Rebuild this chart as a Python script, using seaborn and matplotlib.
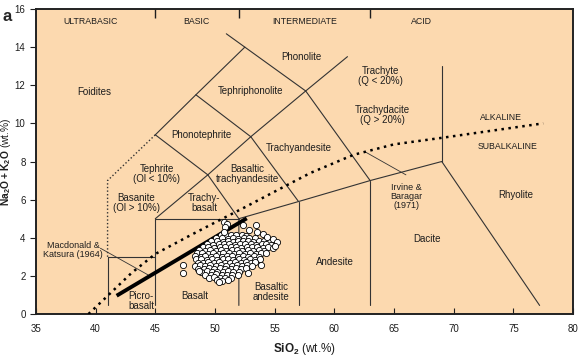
import matplotlib
matplotlib.use('Agg')
import matplotlib.pyplot as plt
import seaborn as sns

# TAS field boundaries, (SiO2, Na2O+K2O) vertices
solid_bounds = [
    [(41, 0.45), (41, 3), (45, 3)],
    [(45, 0.45), (45, 5), (52, 5)],
    [(52, 0.45), (52, 5), (57, 5.9), (63, 7), (69, 8), (77.2, 0.45)],
    [(57, 0.45), (57, 5.9)],
    [(63, 0.45), (63, 7)],
    [(69, 8), (69, 13)],
    [(45, 5), (49.4, 7.3), (52, 5)],
    [(49.4, 7.3), (53, 9.3), (57, 5.9)],
    [(53, 9.3), (57.6, 11.7), (63, 7)],
    [(45, 9.4), (49.4, 7.3)],
    [(45, 9.4), (48.4, 11.5), (52.5, 14)],
    [(48.4, 11.5), (53, 9.3)],
    [(50.95, 14.7), (57.6, 11.7)],
    [(57.6, 11.7), (61.1, 13.5)],
]
dotted_bound = [(41, 3), (41, 7), (45, 9.4)]

# Irvine & Baragar (1971) alkaline / subalkaline divide
ib_sio2 = [39.4, 41.0, 43.0, 45.0, 48.0, 50.0, 52.5, 56.0, 58.0, 61.6, 65.0, 69.1, 73.0, 77.5]
ib_alk = [0.0, 0.95, 2.15, 3.15, 4.15, 4.8, 5.6, 6.75, 7.4, 8.35, 8.9, 9.25, 9.6, 10.0]

# Macdonald & Katsura (1964)
mk_sio2 = [41.76, 52.66]
mk_alk = [0.96, 5.02]

# samples
sample_sio2 = [
    50.5, 50.95, 51.35, 51.8, 52.25, 52.6,
    50.1, 50.6, 51.05, 51.5, 51.95, 52.4, 52.85, 53.35,
    49.7, 50.2, 50.65, 51.1, 51.5, 51.95, 52.35, 52.8, 53.2, 53.7, 54.1, 54.5,
    49.3, 49.8, 50.3, 50.75, 51.2, 51.7, 52.1, 52.55, 53.0, 53.45, 53.9, 54.3, 54.7,
    49.0, 49.45, 49.9, 50.4, 50.85, 51.3, 51.75, 52.2, 52.65, 53.1, 53.55, 54.0, 54.4, 54.85,
    48.7, 49.15, 49.6, 50.05, 50.5, 50.95, 51.4, 51.85, 52.3, 52.75, 53.2, 53.65, 54.1,
    48.5, 48.95, 49.4, 49.8, 50.3, 50.7, 51.15, 51.6, 52.05, 52.5, 52.95, 53.4, 53.85, 54.25,
    48.35, 48.8, 49.2, 49.65, 50.1, 50.55, 51.0, 51.45, 51.9, 52.35, 52.8, 53.25, 53.7,
    48.4, 48.85, 49.3, 49.75, 50.2, 50.65, 51.1, 51.55, 52.0, 52.45, 52.9, 53.35, 53.8,
    48.55, 49.0, 49.45, 49.9, 50.35, 50.8, 51.25, 51.7, 52.15, 52.6, 53.0, 53.35,
    48.3, 48.75, 49.2, 49.6, 50.05, 50.5, 50.95, 51.4, 51.85, 52.3, 52.7, 53.1,
    48.6, 49.05, 49.5, 49.95, 50.4, 50.85, 51.3, 51.75, 52.2, 52.6,
    48.8, 49.3, 49.75, 50.2, 50.65, 51.1, 51.55, 52.0,
    49.2, 49.65, 50.1, 50.55, 51.0, 51.45, 51.9,
    49.5, 49.95, 50.4, 50.85, 51.3,
    50.15, 50.6, 51.05,
    50.76, 50.98, 50.87, 50.76, 52.38, 52.85, 53.4, 53.55, 54.0, 54.35,
    54.9, 55.2, 55.03, 53.85, 52.8, 50.36, 47.35, 47.3, 48.7,
]
sample_alk = [
    4.14, 4.17, 4.12, 4.16, 4.13, 4.10,
    3.97, 4.00, 3.96, 3.99, 3.95, 4.01, 3.97, 3.98,
    3.82, 3.84, 3.80, 3.83, 3.79, 3.85, 3.81, 3.83, 3.80, 3.84, 3.81, 3.78,
    3.66, 3.64, 3.68, 3.65, 3.67, 3.63, 3.68, 3.65, 3.66, 3.64, 3.67, 3.65, 3.62,
    3.50, 3.52, 3.48, 3.51, 3.49, 3.53, 3.50, 3.47, 3.52, 3.49, 3.51, 3.48, 3.50, 3.46,
    3.34, 3.32, 3.36, 3.33, 3.35, 3.31, 3.36, 3.34, 3.32, 3.35, 3.33, 3.36, 3.32,
    3.18, 3.20, 3.16, 3.19, 3.17, 3.21, 3.18, 3.15, 3.19, 3.17, 3.20, 3.16, 3.18, 3.21,
    3.02, 3.00, 3.04, 3.01, 3.03, 2.99, 3.02, 3.05, 3.00, 3.03, 3.01, 3.04, 3.00,
    2.86, 2.88, 2.84, 2.87, 2.85, 2.89, 2.86, 2.83, 2.87, 2.85, 2.88, 2.84, 2.86,
    2.70, 2.68, 2.72, 2.69, 2.71, 2.67, 2.70, 2.73, 2.68, 2.71, 2.69, 2.72,
    2.54, 2.56, 2.52, 2.55, 2.53, 2.57, 2.54, 2.51, 2.55, 2.53, 2.56, 2.52,
    2.38, 2.36, 2.40, 2.37, 2.39, 2.35, 2.38, 2.41, 2.36, 2.39,
    2.22, 2.24, 2.20, 2.23, 2.21, 2.25, 2.22, 2.19,
    2.06, 2.04, 2.08, 2.05, 2.07, 2.03, 2.06,
    1.90, 1.92, 1.88, 1.91, 1.89,
    1.76, 1.74, 1.78,
    4.84, 4.70, 4.55, 4.32, 4.67, 4.41, 4.67, 4.28, 4.20, 4.05,
    3.95, 3.78, 3.58, 2.57, 2.13, 1.69, 2.57, 2.17, 2.28,
]

# field names and label positions
field_names = ['Foidites', 'Phonolite', 'Tephriphonolite', 'Phonotephrite', 'Trachyandesite',
               'Trachyte\n(Q < 20%)', 'Trachydacite\n(Q > 20%)', 'Tephrite\n(Ol < 10%)',
               'Basaltic\ntrachyandesite', 'Basanite\n(Ol > 10%)', 'Trachy-\nbasalt',
               'Picro-\nbasalt', 'Basalt', 'Basaltic\nandesite', 'Andesite', 'Dacite', 'Rhyolite']
field_x = [39.9, 57.2, 53.0, 48.9, 57.0, 63.9, 64.0, 45.1, 52.7, 43.4, 49.1,
           43.8, 48.3, 54.7, 60.05, 67.75, 75.2]
field_y = [11.63, 13.48, 11.72, 9.39, 8.73, 12.47, 10.45, 7.32, 7.32, 5.8, 5.8,
           0.66, 0.94, 1.18, 2.71, 3.92, 6.26]

group_names = ['ULTRABASIC', 'BASIC', 'INTERMEDIATE', 'ACID', 'ALKALINE', 'SUBALKALINE']
group_x = [39.6, 48.4, 57.5, 67.3, 73.95, 74.5]
group_y = [15.34, 15.34, 15.34, 15.34, 10.32, 8.81]
group_ticks = [45, 52, 63]

bg = '#FCD9AF'
ink = '#1e1e1e'
line_col = '#333333'

sns.set_theme(style='ticks')
plt.rcParams['font.family'] = ['Liberation Sans', 'DejaVu Sans']
plt.rcParams['mathtext.fontset'] = 'custom'
plt.rcParams['mathtext.rm'] = 'Liberation Sans'
plt.rcParams['mathtext.bf'] = 'Liberation Sans:bold'

fig = plt.figure(figsize=(5.8, 3.57), dpi=100)
ax = fig.add_axes([0.062, 0.1204, 0.926, 0.8544])
ax.set_facecolor(bg)

for seg in solid_bounds:
    xs, ys = zip(*seg)
    ax.plot(xs, ys, color=line_col, lw=0.8, zorder=2)
xs, ys = zip(*dotted_bound)
ax.plot(xs, ys, color=line_col, lw=1.0, linestyle=(0, (1, 1.6)), zorder=2)

# annotation leaders
ax.plot([40.4, 44.4], [3.45, 2.05], color=line_col, lw=0.6, zorder=2)
ax.plot([62.6, 66.0], [8.5, 7.3], color=line_col, lw=0.6, zorder=2)

# group dividers hanging from the top frame
ax.vlines(group_ticks, 0.972, 1.0, transform=ax.get_xaxis_transform(),
          color=ink, lw=1.0, zorder=6)

sns.lineplot(x=ib_sio2, y=ib_alk, ax=ax, sort=False, color='black', lw=1.8,
             linestyle=(0, (1, 1.8)), zorder=3)
sns.lineplot(x=mk_sio2, y=mk_alk, ax=ax, sort=False, color='black', lw=2.8,
             solid_capstyle='butt', zorder=3)
sns.scatterplot(x=sample_sio2, y=sample_alk, ax=ax, s=20, color='white',
                edgecolor='black', linewidth=0.6, zorder=4)

for name, x, y in zip(field_names, field_x, field_y):
    ax.text(x, y, name, ha='center', va='center', fontsize=7, color=ink,
            linespacing=1.0, zorder=5)
for name, x, y in zip(group_names, group_x, group_y):
    ax.text(x, y, name, ha='center', va='center', fontsize=6.3, color=ink, zorder=5)

ax.text(38.1, 3.36, 'Macdonald &\nKatsura (1964)', ha='center', va='center',
        fontsize=6.5, color=ink, linespacing=1.1)
ax.text(66.07, 6.16, 'Irvine &\nBaragar\n(1971)', ha='center', va='center',
        fontsize=6.5, color=ink, linespacing=1.0)

ax.set_xlim(35, 80)
ax.set_ylim(0, 16)
ax.set_xticks(range(35, 81, 5))
ax.set_yticks(range(0, 17, 2))
ax.tick_params(axis='x', direction='in', length=4, width=0.8, labelsize=7, pad=7,
               colors=ink)
ax.tick_params(axis='y', direction='out', length=4, width=0.8, labelsize=7, pad=3.5,
               colors=ink)

for side in ['left', 'right', 'top', 'bottom']:
    ax.spines[side].set_visible(True)
    ax.spines[side].set_color('#222222')
    ax.spines[side].set_linewidth(1.4)

ax.set_xlabel(r'$\mathbf{SiO_2}$ (wt.%)', fontsize=8.5, color=ink, labelpad=5)
ax.set_ylabel(r'$\mathbf{Na_2O + K_2O}$ (wt.%)', fontsize=7.4, color=ink)
ax.yaxis.set_label_coords(-0.043, 0.5)

fig.text(0.004, 0.975, 'a', fontsize=12, fontweight='bold', va='top', ha='left')

fig.savefig('out.png', dpi=100)
